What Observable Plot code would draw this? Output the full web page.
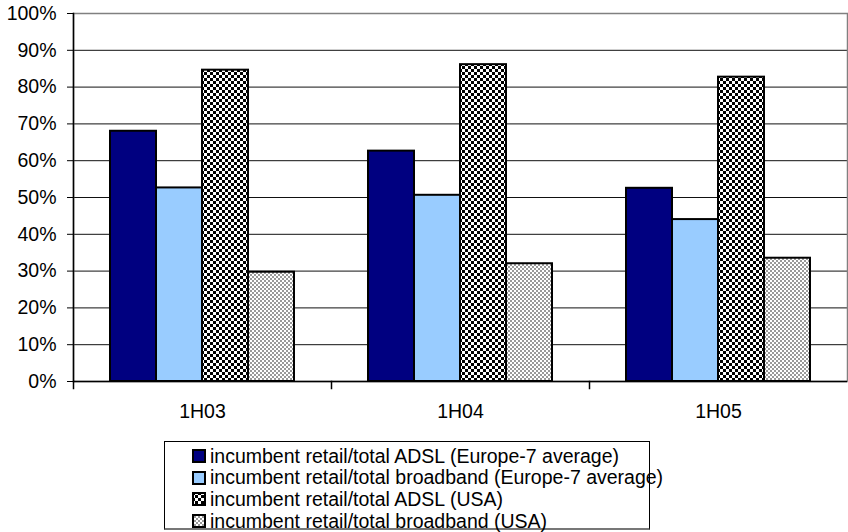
<!DOCTYPE html>
<html>
<head>
<meta charset="utf-8">
<script src="https://cdn.jsdelivr.net/npm/d3@7"></script>
<script src="https://cdn.jsdelivr.net/npm/@observablehq/plot@0.6"></script>
<style>
  html, body { margin: 0; padding: 0; background: #fff; }
  body { width: 848px; height: 532px; position: relative; overflow: hidden; font-family: "Liberation Sans", Arial, sans-serif; }
  #legend { position: absolute; left: 164px; top: 441px; width: 484px; height: 86px;
            border: 1px solid #000; border-bottom: 2px solid #777; box-sizing: content-box; background: #fff; }
  .row { position: absolute; left: 27px; height: 22px; display: flex; align-items: center; font-size: 19.5px; color: #000; white-space: nowrap; }
  .sw { width: 14px; height: 14px; margin-right: 4px; flex: none; }
</style>
</head>
<body>
<svg width="0" height="0" style="position:absolute">
  <defs>
    <pattern id="checkDark" width="6" height="6" patternUnits="userSpaceOnUse">
      <rect width="6" height="6" fill="#fff"/>
      <rect x="0" y="0" width="3" height="3" fill="#000"/>
      <rect x="3" y="3" width="3" height="3" fill="#000"/>
    </pattern>
    <pattern id="checkLight" width="4" height="4" patternUnits="userSpaceOnUse">
      <rect width="4" height="4" fill="#fff"/>
      <rect x="0" y="0" width="2" height="2" fill="#999"/>
      <rect x="2" y="2" width="2" height="2" fill="#999"/>
    </pattern>
  </defs>
</svg>
<div id="chart"></div>
<div id="legend"></div>
<script>
// ---- data ----
const categories = ["1H03", "1H04", "1H05"];
const seriesNames = [
  "incumbent retail/total ADSL (Europe-7 average)",
  "incumbent retail/total broadband (Europe-7 average)",
  "incumbent retail/total ADSL (USA)",
  "incumbent retail/total broadband (USA)"
];
const adslEurope      = [68.0, 62.6, 52.5];
const broadbandEurope = [52.6, 50.6, 44.0];
const adslUSA         = [84.6, 86.1, 82.7];
const broadbandUSA    = [29.7, 32.0, 33.5];
const yTicks = [0, 10, 20, 30, 40, 50, 60, 70, 80, 90, 100];
const seriesFills = ["#000080", "#99CCFF", "url(#checkDark)", "url(#checkLight)"];

const seriesValues = [adslEurope, broadbandEurope, adslUSA, broadbandUSA];
const data = categories.flatMap((c, i) =>
  seriesNames.map((s, j) => ({cat: c, series: s, value: seriesValues[j][i]})));

const chart = Plot.plot({
  width: 848,
  height: 432,
  marginTop: 13,
  marginBottom: 51,
  marginLeft: 73,
  marginRight: 1,
  style: {fontFamily: "'Liberation Sans', Arial, sans-serif", fontSize: "19.5px", color: "#000", background: "#fff"},
  fx: {domain: categories, padding: 0, label: null},
  x: {domain: seriesNames, padding: 0, axis: null, insetLeft: 35.5, insetRight: 35.5},
  y: {domain: [0, 100], label: null},
  color: {domain: seriesNames, range: seriesFills},
  marks: [
    Plot.ruleY(yTicks.filter(d => d > 0 && d < 100), {stroke: "#111", strokeWidth: 1}),
    Plot.frame({facet: "super", stroke: "#808080", strokeWidth: 1.5}),
    Plot.barY(data, {fx: "cat", x: "series", y: "value", fill: "series", stroke: "#000", strokeWidth: 2}),
    Plot.ruleY([0], {stroke: "#000", strokeWidth: 1.5}),
    Plot.frame({facet: "super", anchor: "left", stroke: "#000", strokeWidth: 1.5}),
    Plot.frame({anchor: "left", stroke: "#000", strokeWidth: 1.5, insetTop: 368, insetBottom: -7}),
    Plot.axisY({ticks: yTicks, tickFormat: d => d + "%", tickSize: 6, tickPadding: 11, label: null, stroke: "#000"}),
    Plot.axisFx({anchor: "bottom", tickSize: 0, tickPadding: 23, label: null})
  ]
});
document.getElementById("chart").appendChild(chart);

// ---- legend ----
const legend = d3.select("#legend");
seriesNames.forEach((s, i) => {
  const row = legend.append("div").attr("class", "row").style("top", (3 + i * 21.7) + "px");
  const sw = row.append("svg").attr("class", "sw").attr("width", 14).attr("height", 14);
  sw.append("rect").attr("x", 1).attr("y", 1).attr("width", 12).attr("height", 12)
    .attr("fill", seriesFills[i]).attr("stroke", "#000").attr("stroke-width", 2);
  row.append("span").text(s);
});
</script>
</body>
</html>
